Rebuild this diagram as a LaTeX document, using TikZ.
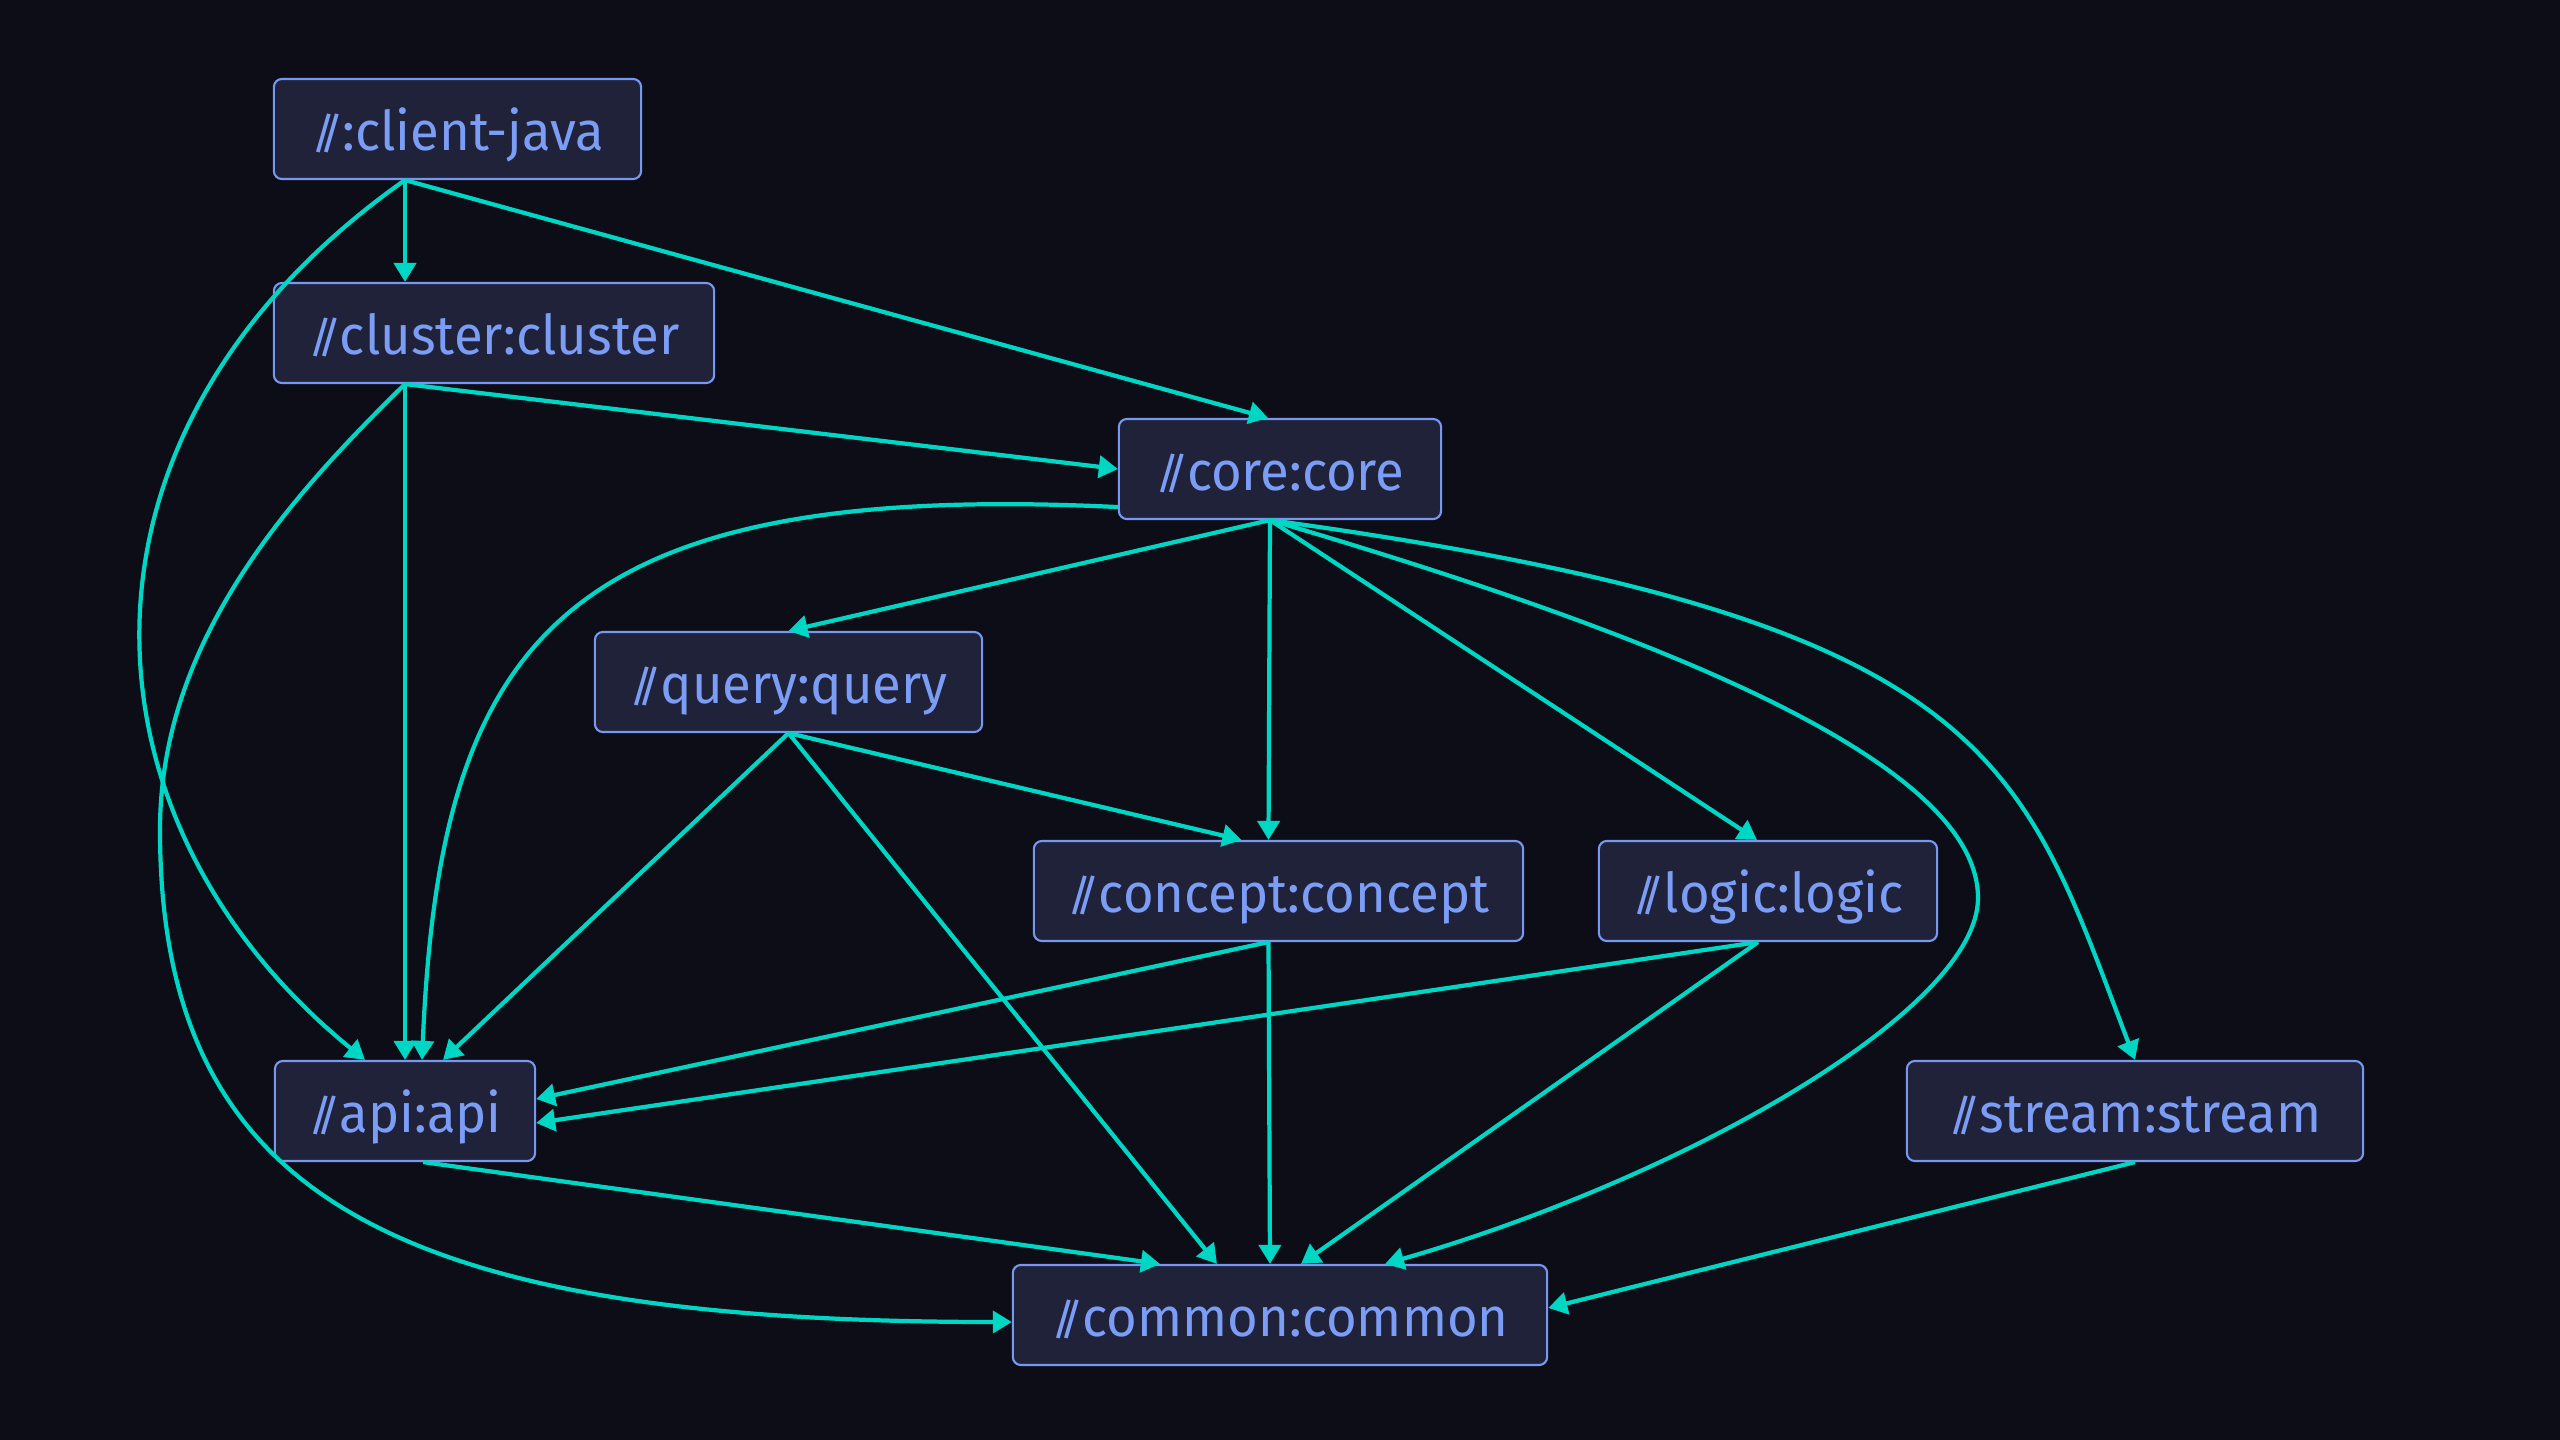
\documentclass[tikz,border=0pt]{standalone}
\usepackage{fontspec}
\usepackage{graphicx}
\setmainfont{Fira Sans}[FakeStretch=.96]
\usetikzlibrary{arrows.meta}

\definecolor{bgdark}{HTML}{0D0D17}
\definecolor{boxfill}{HTML}{1F2239}
\definecolor{boxline}{HTML}{7898F0}
\definecolor{boxtext}{HTML}{7C9DF6}
\definecolor{deplink}{HTML}{00D6C4}

% the tight double slash in front of every module path
\newcommand\dsl{\raisebox{.02em}{\scalebox{.9}[.78]{/\kern-.33em/}}\kern-.03em}

\begin{document}
\begin{tikzpicture}[
    x=0.01cm,y=-0.01cm,
    mod/.style={draw=boxline,fill=boxfill,text=boxtext,line width=.6pt,
      rounded corners=.08cm,inner xsep=0pt,inner ysep=0pt,minimum height=1cm,
      text height=.5cm,text depth=.08cm,font=\fontsize{15.6pt}{18pt}\selectfont},
    dep/.style={draw=deplink,line width=1.2pt,-{Triangle[length=.19cm,width=.22cm]}}
  ]
    \fill[bgdark] (0,0) rectangle (2560,1440);

    % modules, one per rank
    \node[mod,minimum width=3.67cm] (cj) at (457.5,129) {\dsl:client-java};
    \node[mod,minimum width=4.40cm] (clu) at (494,333) {\dsl cluster:cluster};
    \node[mod,minimum width=3.22cm] (core) at (1280,469) {\dsl core:core};
    \node[mod,minimum width=3.87cm] (query) at (788.5,682) {\dsl query:query};
    \node[mod,minimum width=4.89cm] (concept) at (1278.5,891) {\dsl concept:concept};
    \node[mod,minimum width=3.38cm] (logic) at (1768,891) {\dsl logic:logic};
    \node[mod,minimum width=2.60cm] (api) at (405,1111) {\dsl api:api};
    \node[mod,minimum width=4.56cm] (stream) at (2135,1111) {\dsl stream:stream};
    \node[mod,minimum width=5.34cm] (common) at (1280,1315) {\dsl common:common};

    % :client-java
    \draw[dep] (api.north |- cj.south) -- (api.north |- clu.north);
    \draw[dep] (api.north |- cj.south) -- ([xshift=-.12cm]core.north);
    \draw[dep] (api.north |- cj.south) .. controls (50,430) and (70,820) .. ([xshift=-.4cm]api.north);

    % cluster
    \draw[dep] (api.north |- clu.south) -- (core.west);
    \draw[dep] (api.north |- clu.south) -- (api.north);
    \draw[dep] (api.north |- clu.south) .. controls (290,497) and (160,640) .. (160,830)
      .. controls (160,1200) and (400,1322) .. ([yshift=-.07cm]common.west);

    % core
    \draw[dep] ([yshift=.13cm]core.south west) .. controls (560,480) and (440,640) .. ([xshift=.17cm]api.north);
    \draw[dep] ([xshift=-.1cm]core.south) -- (query.north);
    \draw[dep] ([xshift=-.1cm]core.south) -- ([xshift=-.1cm]concept.north);
    \draw[dep] ([xshift=-.1cm]core.south) -- ([xshift=-.11cm]logic.north);
    \draw[dep] ([xshift=-.1cm]core.south) .. controls (1650,632) and (1978,760) .. (1978,898)
      .. controls (1978,1010) and (1683,1178) .. ([xshift=1.05cm]common.north);
    \draw[dep] ([xshift=-.1cm]core.south) .. controls (2000,620) and (2020,760) .. (stream.north);

    % query
    \draw[dep] (query.south) -- ([xshift=.38cm]api.north);
    \draw[dep] (query.south) -- ([xshift=-.37cm]concept.north);
    \draw[dep] (query.south) -- ([xshift=-.63cm]common.north);

    % concept and logic
    \draw[dep] ([xshift=-.1cm]concept.south) -- ([yshift=.12cm]api.east);
    \draw[dep] ([xshift=-.1cm]concept.south) -- ([xshift=-.1cm]common.north);
    \draw[dep] ([xshift=-.1cm]logic.south) -- ([yshift=-.12cm]api.east);
    \draw[dep] ([xshift=-.1cm]logic.south) -- ([xshift=.21cm]common.north);

    % api and stream
    \draw[dep] ([xshift=.18cm]api.south) -- ([xshift=-1.2cm]common.north);
    \draw[dep] (stream.south) -- ([yshift=.07cm]common.east);
  \end{tikzpicture}
\end{document}
